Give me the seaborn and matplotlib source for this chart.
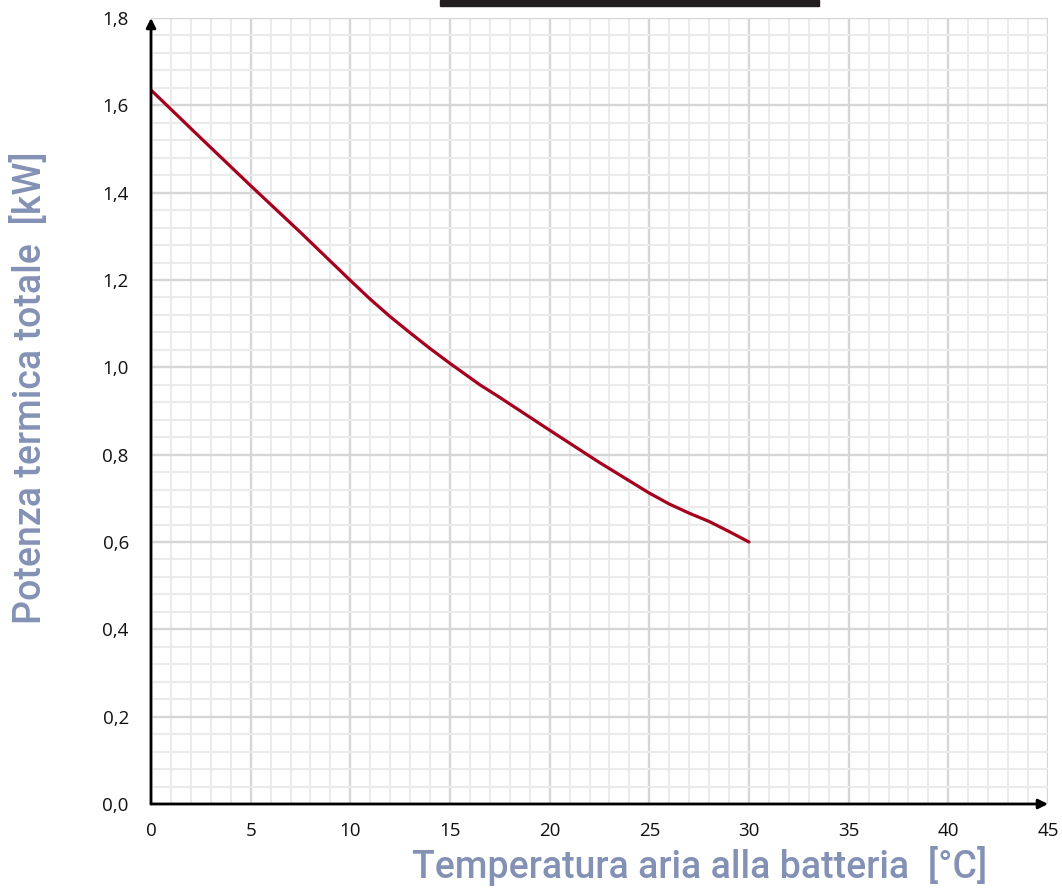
import matplotlib
matplotlib.use("Agg")
import matplotlib.pyplot as plt
import seaborn as sns
import pandas as pd
from matplotlib.patches import Rectangle

# Data
temperature = [0, 2.5, 5, 7.5, 9, 10, 11, 12, 13, 14, 15, 16.5, 17.5, 20, 22.5, 25, 26, 27, 28, 29, 30]
power_kw = [1.635, 1.525, 1.416, 1.309, 1.243, 1.199, 1.156, 1.116, 1.079, 1.043, 1.009, 0.960,
            0.931, 0.856, 0.782, 0.712, 0.687, 0.666, 0.647, 0.624, 0.600]

x_ticks = [0, 5, 10, 15, 20, 25, 30, 35, 40, 45]
y_ticks = [0.0, 0.2, 0.4, 0.6, 0.8, 1.0, 1.2, 1.4, 1.6, 1.8]
y_tick_labels = ["0,0", "0,2", "0,4", "0,6", "0,8", "1,0", "1,2", "1,4", "1,6", "1,8"]

x_label = "Temperatura aria alla batteria  [°C]"
y_label = "Potenza termica totale  [kW]"

df = pd.DataFrame({"T": temperature, "P": power_kw})

sns.set_style("white")
plt.rcParams["font.family"] = ["Open Sans", "DejaVu Sans"]

fig = plt.figure(figsize=(10.62, 8.9), dpi=100)
ax = fig.add_axes([151 / 1062, (890 - 804) / 890, (1048 - 151) / 1062, (804 - 18) / 890])

ax.set_xlim(0, 45)
ax.set_ylim(0, 1.8)

# grids
ax.set_xticks(x_ticks)
ax.set_xticks([i for i in range(0, 46)], minor=True)
ax.set_yticks(y_ticks)
ax.set_yticks([round(i * 0.04, 2) for i in range(0, 46)], minor=True)
ax.grid(which="minor", color="#ebebeb", linewidth=1.5, zorder=0)
ax.grid(which="major", color="#d6d6d6", linewidth=1.7, zorder=0)
ax.set_axisbelow(True)

sns.lineplot(data=df, x="T", y="P", ax=ax, color="#a5001e", linewidth=2.3, zorder=3)

ax.set_yticklabels(y_tick_labels)
ax.set_xticklabels([str(t) for t in x_ticks])
ax.tick_params(axis="both", which="both", length=0, labelsize=13.5, colors="#111111")
ax.tick_params(axis="y", pad=16)
ax.tick_params(axis="x", pad=13)

for s in ax.spines.values():
    s.set_visible(False)

# axis arrows
ax.annotate("", xy=(0, 1.8), xytext=(0, 0), xycoords="data",
            arrowprops=dict(arrowstyle="-|>", color="black", lw=2, mutation_scale=14,
                            shrinkA=0, shrinkB=0), annotation_clip=False, zorder=5)
ax.annotate("", xy=(45, 0), xytext=(0, 0), xycoords="data",
            arrowprops=dict(arrowstyle="-|>", color="black", lw=2, mutation_scale=14,
                            shrinkA=0, shrinkB=0), annotation_clip=False, zorder=5)

ax.set_xlabel("")
ax.set_ylabel("")
label_color = "#8391b5"
fig.text(700 / 1062, 1 - 866 / 890, x_label, ha="center", va="center", fontsize=27,
         color=label_color, family=["Roboto", "DejaVu Sans"], fontweight="medium")
fig.text(30 / 1062, 1 - 388 / 890, y_label, ha="center", va="center", fontsize=27,
         rotation=90, color=label_color, family=["Roboto", "DejaVu Sans"], fontweight="medium")

# black bar at top
fig.patches.append(Rectangle((440 / 1062, 1 - 6 / 890), (819 - 440) / 1062, 6 / 890,
                             transform=fig.transFigure, color="#231f20", zorder=10))

fig.savefig("out.png", dpi=100)
